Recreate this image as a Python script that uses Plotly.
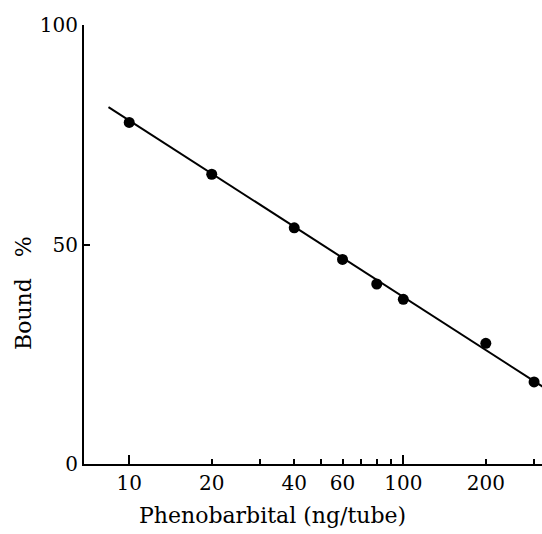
import plotly.graph_objects as go

# Data
dose = [10, 20, 40, 60, 80, 100, 200, 300]          # ng/tube
bound = [77.8, 66.0, 53.8, 46.6, 41.0, 37.5, 27.5, 18.7]  # Bound %
fit_dose = [8.4, 330]
fit_bound = [81.3, 17.2]

x_label_vals = [10, 20, 40, 60, 100, 200]
x_label_text = ["10", "20", "40", "60", "100", "200"]
x_minor_vals = [30, 50, 70, 80, 90, 300]
x_long_vals = [10, 100]
y_tick_vals = [0, 50, 100]

FONT = "DejaVu Serif"
x_range = [0.835, 2.506]

fig = go.Figure()
fig.add_trace(go.Scatter(x=fit_dose, y=fit_bound, mode="lines",
                         line=dict(color="black", width=2), showlegend=False,
                         hoverinfo="skip"))
fig.add_trace(go.Scatter(x=dose, y=bound, mode="markers",
                         marker=dict(color="black", size=11), showlegend=False,
                         cliponaxis=False))
# invisible trace on overlay axis carrying the longer decade ticks
fig.add_trace(go.Scatter(x=[10], y=[0], xaxis="x2", mode="markers",
                         marker=dict(opacity=0), showlegend=False, hoverinfo="skip"))

fig.update_layout(
    width=542, height=534,
    margin=dict(l=84, r=0, t=25, b=70),
    paper_bgcolor="white", plot_bgcolor="white",
    font=dict(family=FONT, color="black", size=20),
    xaxis=dict(type="log", range=x_range, showgrid=False, zeroline=False,
               showline=True, linecolor="black", linewidth=2,
               ticks="inside", ticklen=5, tickwidth=2, tickcolor="black",
               tickmode="array", tickvals=x_label_vals, ticktext=x_label_text,
               tickfont=dict(family=FONT, size=20), ticklabelstandoff=0,
               minor=dict(tickmode="array", tickvals=x_minor_vals, ticks="inside",
                          ticklen=5, tickwidth=2, tickcolor="black", showgrid=False)),
    xaxis2=dict(type="log", range=x_range, overlaying="x", side="bottom",
                showgrid=False, zeroline=False, showline=False,
                ticks="inside", ticklen=9, tickwidth=2, tickcolor="black",
                tickmode="array", tickvals=x_long_vals, showticklabels=False),
    yaxis=dict(range=[0, 100], showgrid=False, zeroline=False,
               showline=True, linecolor="black", linewidth=2,
               ticks="inside", ticklen=6, tickwidth=2, tickcolor="black",
               tickmode="array", tickvals=y_tick_vals,
               tickfont=dict(family=FONT, size=20), ticklabelstandoff=0),
    annotations=[
        dict(text="Phenobarbital (ng/tube)", xref="paper", yref="paper",
             x=(272 - 84) / 458, y=-(515 - 464) / 439, xanchor="center", yanchor="middle",
             showarrow=False, font=dict(family=FONT, size=22)),
        dict(text="Bound\u00a0\u00a0\u00a0%", xref="paper", yref="paper",
             x=-(84 - 23) / 458, y=(464 - 293) / 439, xanchor="center", yanchor="middle",
             textangle=-90, showarrow=False, font=dict(family=FONT, size=22)),
    ],
)

fig.write_html("out.html")
